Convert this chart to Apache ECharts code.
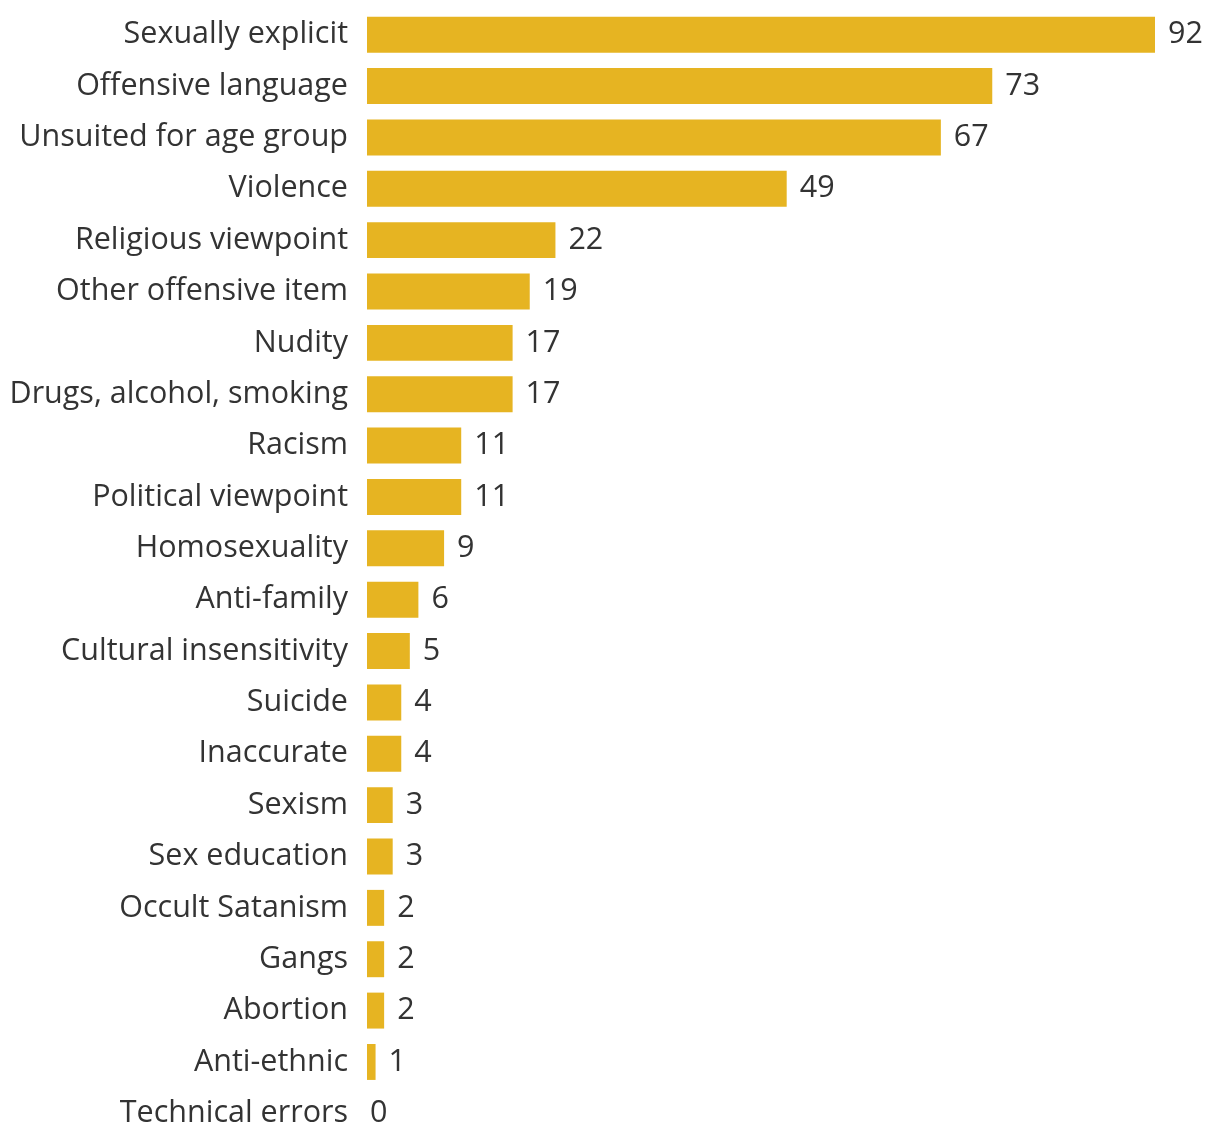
<!DOCTYPE html>
<html>
<head>
<meta charset="utf-8">
<script src="https://cdn.jsdelivr.net/npm/echarts@6/dist/echarts.min.js"></script>
<style>
  html, body { margin: 0; padding: 0; background: #fff; overflow: hidden; }
  #chart { width: 1206px; height: 1145px; }
</style>
</head>
<body>
<div id="chart"></div>
<script>
const categories = [
  'Sexually explicit', 'Offensive language', 'Unsuited for age group', 'Violence',
  'Religious viewpoint', 'Other offensive item', 'Nudity', 'Drugs, alcohol, smoking',
  'Racism', 'Political viewpoint', 'Homosexuality', 'Anti-family',
  'Cultural insensitivity', 'Suicide', 'Inaccurate', 'Sexism',
  'Sex education', 'Occult Satanism', 'Gangs', 'Abortion',
  'Anti-ethnic', 'Technical errors'
]
const values = [92, 73, 67, 49, 22, 19, 17, 17, 11, 11, 9, 6, 5, 4, 4, 3, 3, 2, 2, 2, 1, 0]

// the chart div is a bit taller than the window: the last row is cut off in the original
const chart = echarts.init(document.getElementById('chart'))

const option = {
  animation: false,
  grid: {
    left: 367,
    right: 51,
    top: 9,
    height: 1130,
    containLabel: false
  },
  xAxis: {
    type: 'value',
    min: 0,
    max: 92,
    show: false
  },
  yAxis: {
    type: 'category',
    data: categories,
    inverse: true,
    axisLine: { show: false },
    axisTick: { show: false },
    axisLabel: {
      margin: 19,
      fontFamily: 'Open Sans',
      fontSize: 30.5,
      color: '#333'
    }
  },
  series: [
    {
      type: 'bar',
      barCategoryGap: '30%',
      itemStyle: { color: '#E6B422' },
      label: {
        show: true,
        position: 'right',
        distance: 13,
        fontFamily: 'Open Sans',
        fontSize: 30.5,
        color: '#333'
      },
      data: values.map(v => v === 0 ? { value: v, label: { distance: 3 } } : v)
    }
  ]
}

chart.setOption(option)
</script>
</body>
</html>
